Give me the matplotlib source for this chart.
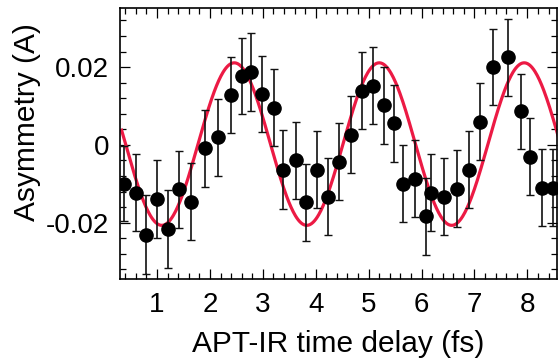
import numpy as np
import matplotlib
matplotlib.use("Agg")
from matplotlib import pyplot as plt
from matplotlib.ticker import MultipleLocator

plt.rcParams['font.family'] = ['Liberation Sans', 'DejaVu Sans']

# measured points: APT-IR delay (fs), asymmetry, error
delay = [0.376, 0.611, 0.800, 1.008, 1.212, 1.410, 1.637, 1.902, 2.153, 2.406,
         2.607, 2.785, 2.985, 3.212, 3.382, 3.622, 3.811, 4.025, 4.233, 4.435,
         4.675, 4.883, 5.083, 5.286, 5.474, 5.650, 5.885, 6.093, 6.174, 6.425,
         6.679, 6.896, 7.113, 7.352, 7.635, 7.875, 8.059, 8.278, 8.475]
asym = [-0.0100, -0.0123, -0.0231, -0.0140, -0.0216, -0.0114, -0.0146, -0.0009, 0.0020, 0.0129,
        0.0177, 0.0188, 0.0131, 0.0096, -0.0064, -0.0040, -0.0147, -0.0064, -0.0134, -0.0043,
        0.0026, 0.0139, 0.0152, 0.0102, 0.0056, -0.0100, -0.0087, -0.0183, -0.0123, -0.0133,
        -0.0113, -0.0064, 0.0060, 0.0201, 0.0225, 0.0086, -0.0030, -0.0110, -0.0110]
err = [0.0097, 0.0099, 0.0101, 0.0100, 0.0100, 0.0099, 0.0099, 0.0099, 0.0099, 0.0098,
       0.0098, 0.0100, 0.0098, 0.0099, 0.0101, 0.0099, 0.0099, 0.0099, 0.0099, 0.0099,
       0.0099, 0.0099, 0.0099, 0.0099, 0.0099, 0.0099, 0.0099, 0.0099, 0.0099, 0.0099,
       0.0099, 0.0099, 0.0099, 0.0098, 0.0099, 0.0097, 0.0099, 0.0099, 0.0099]

# cosine fit
fit_amp = 0.0209
fit_period = 2.74
fit_peak = 2.46
fit_offset = 0.0002

fig = plt.figure(figsize=(5.58, 3.58), dpi=100)
ax = fig.add_axes([120 / 558, 79 / 358, 437 / 558, 271 / 358])

t = np.linspace(0.33, 8.6, 600)
ax.plot(t, fit_offset + fit_amp * np.cos(2 * np.pi * (t - fit_peak) / fit_period),
        color='#ec1a44', lw=2.3, zorder=2)
ax.errorbar(delay, asym, yerr=err, fmt='o', color='black', ms=9.5,
            ecolor='#111111', elinewidth=1.2, capsize=3, capthick=1.0, zorder=3)

ax.set_xlim(0.3, 8.56)
ax.set_ylim(-0.0345, 0.0352)
ax.xaxis.set_major_locator(MultipleLocator(1))
ax.xaxis.set_minor_locator(MultipleLocator(0.2))
ax.yaxis.set_minor_locator(MultipleLocator(0.004))
ax.set_yticks([-0.02, 0, 0.02])
ax.set_yticklabels(['-0.02', '0', '0.02'])

ax.tick_params(which='both', direction='in', top=True, right=True, width=0.9,
               labelsize=20)
ax.tick_params(which='major', length=7.5, pad=9)
ax.tick_params(which='minor', length=4.5)
ax.tick_params(axis='y', pad=8)
for s in ax.spines.values():
    s.set_linewidth(1.2)

ax.set_xlabel('APT-IR time delay (fs)', fontsize=21.5, labelpad=9)
ax.set_ylabel('Asymmetry (A)', fontsize=21.5)
ax.yaxis.set_label_coords(-0.18, 0.58)

fig.savefig('out.png', dpi=100)
